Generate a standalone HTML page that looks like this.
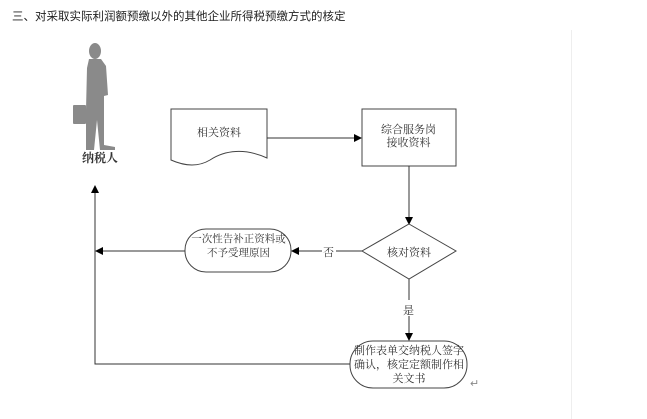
<!DOCTYPE html>
<html><head><meta charset="utf-8"><style>
html,body{margin:0;padding:0;background:#fff;}
body{width:647px;height:419px;position:relative;overflow:hidden;font-family:"Liberation Sans","Noto Sans CJK SC",sans-serif;}
.t{position:absolute;font-family:"Liberation Serif","Noto Serif CJK SC",serif;font-size:11px;color:#333;white-space:nowrap;}
</style></head><body>
<div style="position:absolute;left:12px;top:8px;font-size:11.5px;color:#222;font-family:'Liberation Sans','Noto Sans CJK SC',sans-serif;white-space:nowrap;">三、对采取实际利润额预缴以外的其他企业所得税预缴方式的核定</div>
<div style="position:absolute;left:571px;top:30px;width:1px;height:389px;background:#eee;"></div>
<svg width="647" height="419" style="position:absolute;left:0;top:0" xmlns="http://www.w3.org/2000/svg">
<defs><marker id="a" markerWidth="8" markerHeight="8" refX="7" refY="4" orient="auto" markerUnits="userSpaceOnUse"><path d="M0,0 L8,4 L0,8 z" fill="#000"/></marker></defs>
<g fill="#8a8a8a">
<ellipse cx="95" cy="51" rx="6" ry="8"/>
<path d="M89,59 L101,59 L106,66 L108,95 L104,96 L104,145 L115,147 L115,150 L100,150 L97,120 L94,150 L86,150 L86,110 L87,68 Z"/>
<rect x="73" y="105" width="13" height="19" rx="1"/>
</g>
<text x="100" y="162" text-anchor="middle" font-size="12" font-weight="bold" fill="#333" font-family="Liberation Serif,Noto Serif CJK SC,serif">纳税人</text>
<path d="M171,109 L267,109 L267,158 C245,148 225,150 210,160 C195,169 180,164 171,160 Z" fill="#fff" stroke="#444" stroke-width="1"/>
<line x1="267" y1="138" x2="361" y2="138" stroke="#333" marker-end="url(#a)"/>
<rect x="362" y="109" width="94" height="57" fill="#fff" stroke="#444"/>
<line x1="409" y1="166" x2="409" y2="224" stroke="#333" marker-end="url(#a)"/>
<polygon points="409,224 456,251 409,279 362,251" fill="#fff" stroke="#444"/>
<line x1="362" y1="251" x2="292" y2="251" stroke="#333" marker-end="url(#a)"/>
<rect x="185" y="229" width="106" height="43" rx="21" fill="#fff" stroke="#444"/>
<line x1="185" y1="251" x2="96" y2="251" stroke="#333" marker-end="url(#a)"/>
<line x1="409" y1="279" x2="409" y2="340" stroke="#333" marker-end="url(#a)"/>
<rect x="350" y="341" width="117" height="47" rx="23" fill="#fff" stroke="#444"/>
<polyline points="350,364 95,364 95,186" fill="none" stroke="#333" marker-end="url(#a)"/>
<rect x="322" y="244" width="14" height="14" fill="#fff"/>
<rect x="402" y="300" width="14" height="16" fill="#fff"/>
</svg>
<div class="t" style="left:197px;top:124px;">相关资料</div>
<div class="t" style="left:381px;top:124px;text-align:center;line-height:13px;">综合服务岗<br>接收资料</div>
<div class="t" style="left:387px;top:244px;">核对资料</div>
<div class="t" style="left:323px;top:244px;">否</div>
<div class="t" style="left:403px;top:302px;">是</div>
<div class="t" style="left:187px;top:233px;width:103px;text-align:center;line-height:14px;font-size:10.5px;">一次性告补正资料或<br>不予受理原因</div>
<div class="t" style="left:351px;top:344px;width:116px;text-align:center;line-height:14px;">制作表单交纳税人签字<br>确认，核定定额制作相<br>关文书</div>
<div class="t" style="left:470px;top:377px;color:#888;">↵</div>
</body></html>
